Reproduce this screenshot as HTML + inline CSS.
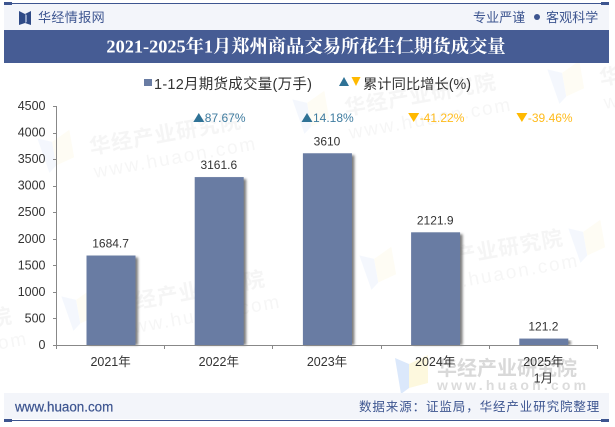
<!DOCTYPE html>
<html lang="zh">
<head>
<meta charset="utf-8">
<title>2021-2025年1月郑州商品交易所花生仁期货成交量</title>
<style>
html,body{margin:0;padding:0;background:#fff;}
body{width:615px;height:427px;overflow:hidden;}
svg{display:block;}
text{font-family:"Liberation Sans","Noto Sans CJK SC",sans-serif;}
</style>
</head>
<body>
<svg id="chart" width="615" height="427" viewBox="0 0 615 427" xmlns="http://www.w3.org/2000/svg">
  <defs>
    <filter id="barShadow" x="-20%" y="-5%" width="150%" height="110%">
      <feGaussianBlur stdDeviation="1.3"/>
    </filter>
    <g id="wm-icon">
      <polygon points="0,3 14,9 14,33 6,39" fill="#dbe8fb"/>
      <polygon points="14,9 33,0 33,28 14,33" fill="#fdf8de"/>
    </g>
  </defs>
  <rect width="615" height="427" fill="#fff"/>

  <g id="watermarks"></g>

  <g>
    <rect x="4" y="4" width="605" height="26" fill="#f3f5fa"/>
    <rect x="4" y="3" width="605" height="1" fill="#3d5590"/>
    <rect x="4" y="2" width="8" height="3" fill="#3d5590"/>
    <rect x="601" y="2" width="8" height="3" fill="#3d5590"/>
    <g>
      <polygon points="19,11 25,14 25,23 19,25" fill="#2f4a86"/>
      <polygon points="31,11 25,14 25,23 31,25" fill="#2f4a86"/>
      <polygon points="25,14 27,15 27,22 25,23" fill="#8fa1c6"/>
    </g>
    <text x="38" y="22" font-size="13" letter-spacing="0.4" fill="#3d5590">华经情报网</text>
    <text x="473" y="22" font-size="13" letter-spacing="0.1" fill="#3d5590">专业严谨</text>
    <circle cx="537" cy="17" r="3" fill="#3d5590"/>
    <text x="546" y="22" font-size="13" letter-spacing="0.1" fill="#3d5590">客观科学</text>
  </g>

  <rect x="4" y="30" width="605" height="33" fill="#465c94"/>
  <text x="306" y="52.500" text-anchor="middle" font-size="18.300" font-weight="700" fill="#fff" style="font-family:'Liberation Serif','Noto Serif CJK SC',serif">2021-2025年1月郑州商品交易所花生仁期货成交量</text>

  <g>
    <rect x="144" y="79" width="8" height="7" fill="#697ca3"/>
    <text x="154" y="89" font-size="14.500" letter-spacing="0.25" fill="#333">1-12月期货成交量(万手)</text>
    <polygon points="339,86 349,86 344,77" fill="#2f7296"/>
    <polygon points="351.500,77 360.500,77 356,86" fill="#ffb900"/>
    <text x="363" y="89" font-size="14.300" fill="#333">累计同比增长(%)</text>
  </g>

  <g id="plot"></g>

  <g>
    <rect x="4" y="393" width="605" height="26" fill="#f3f5fa"/>
    <rect x="4" y="420" width="605" height="1" fill="#3d5590"/>
    <rect x="4" y="419" width="8" height="3" fill="#3d5590"/>
    <rect x="601" y="419" width="8" height="3" fill="#3d5590"/>
    <text x="15" y="411.500" font-size="13.400" font-weight="400" fill="#3d5590" stroke="#3d5590" stroke-width="0.2">www.huaon.com</text>
    <text x="359" y="411" font-size="12.500" letter-spacing="0.9" fill="#3d5590">数据来源：证监局，华经产业研究院整理</text>
  </g>
</svg>
<script>
const categories = [["2021年"], ["2022年"], ["2023年"], ["2024年"], ["2025年", "1月"]];
const volumeValues = [1684.7, 3161.6, 3610, 2121.9, 121.2];
const volumeLabels = ["1684.7", "3161.6", "3610", "2121.9", "121.2"];
const growthValues = [null, 87.67, 14.18, -41.22, -39.46];
const yTicks = [0, 500, 1000, 1500, 2000, 2500, 3000, 3500, 4000, 4500];

const NS = "http://www.w3.org/2000/svg";
const plot = document.getElementById("plot");
const wmLayer = document.getElementById("watermarks");

const axisLeft = 57, axisRight = 598, axisTop = 106, axisBottom = 345;
const yMax = yTicks[yTicks.length - 1];
function yScale(v) { return axisBottom - (v / yMax) * (axisBottom - axisTop); }
function bandWidth() { return (axisRight - axisLeft) / categories.length; }
function xCenter(i) { return axisLeft + bandWidth() * (i + 0.5); }

function make(tag, attrs, parent, txt) {
  const el = document.createElementNS(NS, tag);
  for (const k in attrs) el.setAttribute(k, attrs[k]);
  if (txt !== undefined) el.textContent = txt;
  parent.appendChild(el);
  return el;
}

// watermarks
const wmSpots = [[42, 165], [66, 323], [297, 126], [364, 282], [552, 96], [573, 255], [-187, 360]];
wmSpots.forEach(function (s) {
  const g = make("g", { transform: "translate(" + s[0] + "," + s[1] + ") rotate(-10)", opacity: 0.3 }, wmLayer);
  
  
  make("use", { href: "#wm-icon", x: 0, y: -30 }, g);
  make("text", { x: 50, y: -2, "font-size": 21, "font-weight": 700, fill: "#e0e0e0", "letter-spacing": 1 }, g, "华经产业研究院");
  make("text", { x: 50, y: 22, "font-size": 19, fill: "#e4e4e4", "letter-spacing": 2 }, g, "www.huaon.com");
});
const wmMain = make("g", {}, wmLayer);


make("use", { href: "#wm-icon", x: 395, y: 355 }, wmMain);
make("text", { x: 437, y: 375, "font-size": 20, "font-weight": 700, fill: "#d9d9d9" }, wmMain, "华经产业研究院");
make("text", { x: 437, y: 390, "font-size": 14, "font-weight": 700, fill: "#dcdcdc", "letter-spacing": 3.2 }, wmMain, "www.huaon.com");

// bars
const barWidth = 49;
volumeValues.forEach(function (v, i) {
  const x = xCenter(i) - barWidth / 2 - 0.1, y = yScale(v), h = axisBottom - y;
  const sh = make("rect", { x: x + 2.5, y: y + 2, width: barWidth, height: Math.max(h - 2, 0), fill: "#444", opacity: 0.7, filter: "url(#barShadow)" }, plot);
  
  
  const bar = make("rect", { x: x, y: y, width: barWidth, height: h, fill: "#697ca3" }, plot);
  
  
  const lab = make("text", { x: xCenter(i) - 0.5, y: y - 8, "text-anchor": "middle", "font-size": 12, fill: "#333" }, plot, volumeLabels[i]);
  
  
});

// axes
const yAxis = make("line", { x1: axisLeft - 0.5, x2: axisLeft - 0.5, y1: axisTop, y2: axisBottom + 0.5, stroke: "#888", "stroke-width": 1 }, plot);


const xAxis = make("line", { x1: axisLeft - 4, x2: axisRight, y1: axisBottom + 0.5, y2: axisBottom + 0.5, stroke: "#888", "stroke-width": 1 }, plot);



yTicks.forEach(function (t) {
  const y = yScale(t);
  const tick = make("line", { x1: axisLeft - 4, x2: axisLeft, y1: Math.round(y) + 0.5, y2: Math.round(y) + 0.5, stroke: "#888", "stroke-width": 1 }, plot);
  
  
  const lab = make("text", { x: 45.5, y: y + 4, "text-anchor": "end", "font-size": 12.5, fill: "#333" }, plot, String(t));
  
  
});

categories.forEach(function (c, i) {
  for (const edge of [i, i + 1]) {
    const px = Math.round(axisLeft + bandWidth() * edge) - 0.5;
    const tick = make("line", { x1: px, x2: px, y1: axisBottom, y2: axisBottom + 4, stroke: "#888", "stroke-width": 1 }, plot);
    
    
  }
  c.forEach(function (line, n) {
    const lab = make("text", { x: xCenter(i) - 0.5, y: 366 + n * 16.5, "text-anchor": "middle", "font-size": 12.5, fill: "#333" }, plot, line);
    
    
  });
});

// growth markers
growthValues.forEach(function (g, i) {
  if (g === null) return;
  const up = g >= 0;
  const color = up ? "#3f7ca0" : "#ffbb1c";
  const cx = xCenter(i) - (up ? 20.5 : 22);
  const pts = up
    ? [[cx - 5.5, 122], [cx + 5.5, 122], [cx, 113]]
    : [[cx - 5.5, 113], [cx + 5.5, 113], [cx, 122]];
  const tri = make("polygon", { points: pts.map(function (p) { return p.join(","); }).join(" "), fill: up ? "#2f7296" : "#ffb900" }, plot);
  
  
  const lab = make("text", { x: cx + 6, y: 122, "font-size": 12, fill: color }, plot, g.toFixed(2) + "%");
  
  
});
</script>
</body>
</html>
